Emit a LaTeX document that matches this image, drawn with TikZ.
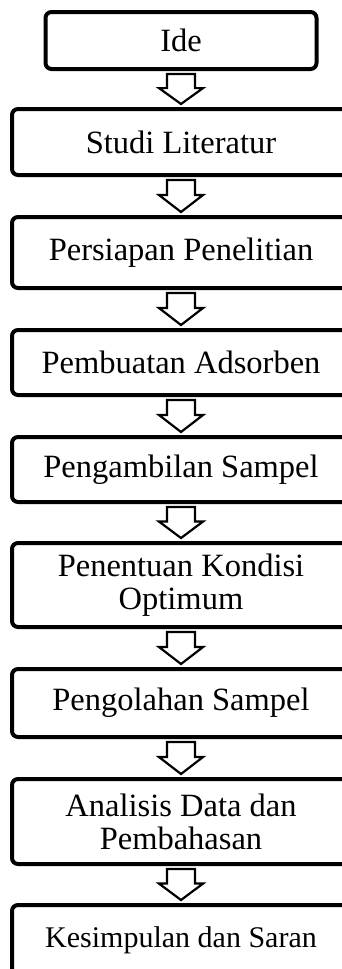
\documentclass[tikz,border=0pt]{standalone}
\usepackage{fontspec}
\setmainfont{Liberation Serif}
\usetikzlibrary{calc}

\begin{document}
\begin{tikzpicture}[
    % Environment Config
    x=1pt, y=-1pt,
    font=\fontsize{32.5}{33}\selectfont,
    StepBox/.style={% Style for the process boxes
      draw,
      line width=4pt,
      rounded corners=6pt,
      align=center,
      inner sep=0pt,
      minimum width=338pt,
      minimum height=#1
    },
    StepBox/.default=66pt,
    BlockArrow/.style={% Style for the hollow arrows
      draw,
      fill=white,
      line width=2.2pt,
      line join=miter
    }
  ]

  \def\FlowArrow#1#2{% Hollow arrow from box #1 down to box #2
    \draw[BlockArrow] let \p1=(#1.south), \p2=(#2.north) in
      (\x1-14pt, \y1-3pt)
        -- (\x1+14pt, \y1-3pt)
        -- ({\x1+14pt}, {\y1-3pt-0.47*(\y1-\y2-6pt)})
        -- ({\x1+22pt}, {\y1-3pt-0.47*(\y1-\y2-6pt)})
        -- (\x1, \y2+3pt)
        -- ({\x1-22pt}, {\y1-3pt-0.47*(\y1-\y2-6pt)})
        -- ({\x1-14pt}, {\y1-3pt-0.47*(\y1-\y2-6pt)})
        -- cycle;
  }

  % Fix the frame of the picture
  \useasboundingbox (0,0) rectangle (342,969);
  \clip (0,0) rectangle (342,969);

  % Put the process boxes in position
  \node[StepBox=57pt, minimum width=271pt] (Ide) at (181,40.5) {Ide};
  \node[StepBox=66pt] (Studi) at (181,142) {Studi Literatur};
  \node[StepBox=71pt] (Persiapan) at (181,252.5) {Persiapan Penelitian};
  \node[StepBox=65pt] (Pembuatan) at (181,362.5) {Pembuatan Adsorben};
  \node[StepBox=65pt] (Pengambilan) at (181,469.5) {Pengambilan Sampel};
  \node[StepBox=84pt] (Penentuan) at (181,585) {Penentuan Kondisi\\Optimum};
  \node[StepBox=68pt] (Pengolahan) at (181,703) {Pengolahan Sampel};
  \node[StepBox=85pt] (Analisis) at (181,821.5) {Analisis Data dan\\Pembahasan};
  \node[StepBox=70pt, font=\fontsize{30}{31}\selectfont]
    (Kesimpulan) at (181,940) {Kesimpulan dan Saran};

  % Draw the arrows between the boxes
  \FlowArrow{Ide}{Studi}
  \FlowArrow{Studi}{Persiapan}
  \FlowArrow{Persiapan}{Pembuatan}
  \FlowArrow{Pembuatan}{Pengambilan}
  \FlowArrow{Pengambilan}{Penentuan}
  \FlowArrow{Penentuan}{Pengolahan}
  \FlowArrow{Pengolahan}{Analisis}
  \FlowArrow{Analisis}{Kesimpulan}

\end{tikzpicture}
\end{document}
